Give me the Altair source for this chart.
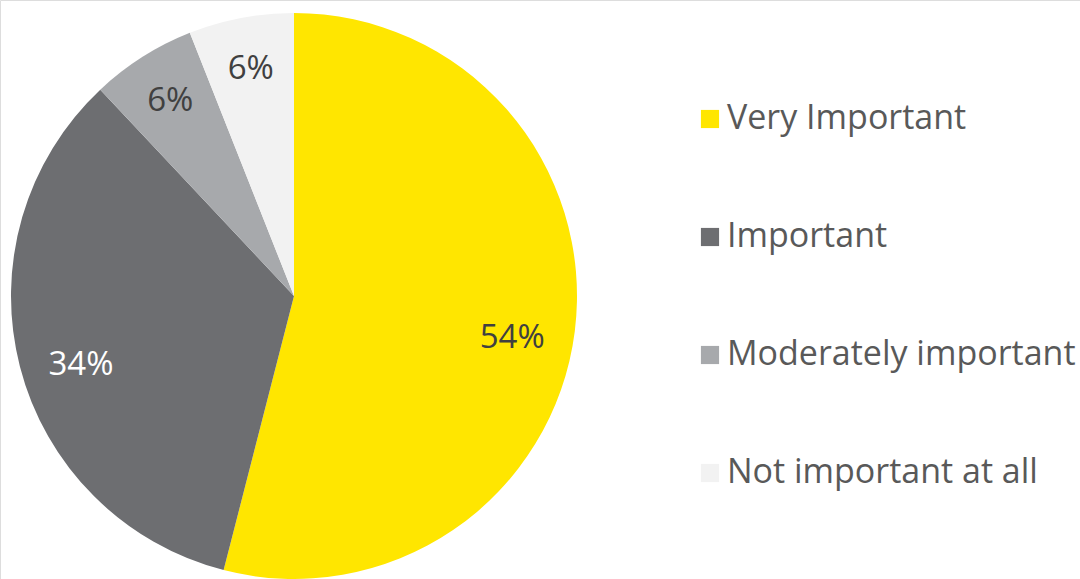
import altair as alt
import pandas as pd

categories = ["Very Important", "Important", "Moderately important", "Not important at all"]
values = [54, 34, 6, 6]
labels = ["54%", "34%", "6%", "6%"]
colors = ["#FFE600", "#6D6E71", "#A7A9AC", "#F2F2F2"]

df = pd.DataFrame({
    "category": categories,
    "value": values,
    "label": labels,
    "idx": list(range(len(categories))),
})

base = alt.Chart(df).encode(
    theta=alt.Theta("value:Q", stack=True),
    order=alt.Order("idx:Q"),
)

pie = base.mark_arc(radius=283, stroke=None).encode(
    x=alt.value(294),
    y=alt.value(296),
    color=alt.Color(
        "category:N",
        scale=alt.Scale(domain=categories, range=colors),
        legend=alt.Legend(
            title=None,
            orient="none",
            legendX=693,
            legendY=102,
            symbolType="square",
            symbolSize=330,
            symbolStrokeWidth=0,
            labelFontSize=34,
            labelFont="Open Sans",
            labelColor="#595959",
            labelLimit=500,
            labelOffset=0,
            rowPadding=84,
        ),
        sort=categories,
    ),
)

label_color = alt.condition(
    alt.datum.category == "Important", alt.value("#FFFFFF"), alt.value("#404040")
)

text_big = base.mark_text(radius=220, dy=14, fontSize=33, font="Open Sans").encode(
    x=alt.value(294),
    y=alt.value(296),
    text=alt.Text("shown:N"),
    color=label_color,
).transform_calculate(shown="datum.value >= 20 ? datum.label : ''")

text_small = base.mark_text(radius=231, fontSize=33, font="Open Sans").encode(
    x=alt.value(294),
    y=alt.value(296),
    text=alt.Text("shown:N"),
    color=label_color,
).transform_calculate(shown="datum.value < 20 ? datum.label : ''")

chart = alt.layer(pie, text_big, text_small).properties(
    width=1080,
    height=579,
    autosize=alt.AutoSizeParams(type="none"),
    padding=0,
).configure_view(stroke=None).configure(background="white")

chart.save("out.html", embed_options={"renderer": "svg", "actions": False})
